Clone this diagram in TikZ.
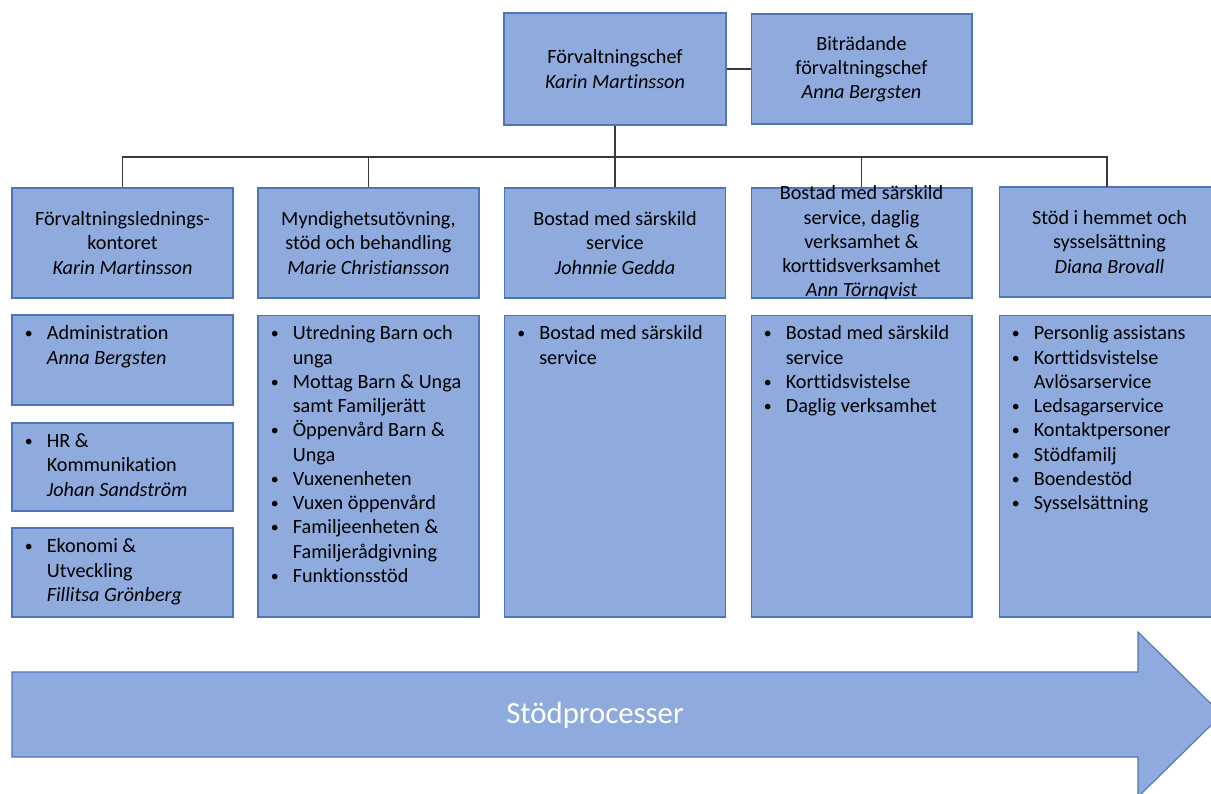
\documentclass[tikz,border=0pt]{standalone}
\usepackage{fontspec}
\setmainfont{Carlito}[Ligatures=NoCommon]
\definecolor{box-fill}{HTML}{8FAADC}
\definecolor{box-line}{HTML}{4F74B8}
\definecolor{conn-line}{HTML}{3A3A3A}
\newcommand\bul{\makebox[0.44cm][l]{\raisebox{0.6pt}{\fontsize{9}{9}\selectfont •}}}
\newcommand\cont{\hspace*{0.44cm}}

\begin{document}
\begin{tikzpicture}[x=0.02cm, y=-0.02cm,
        every node/.style={font={\fontsize{11.5}{13.8}\selectfont}},
        unit/.style={draw=box-line, line width=0.6pt, fill=box-fill,
          inner sep=0pt, minimum width=4.42cm, align=center},
        head/.style={unit, minimum height=2.2cm},
        list/.style={unit, minimum height=6.04cm},
        items/.style={anchor=north west, align=left, inner sep=0pt,
          xshift=0.26cm, yshift=-0.22cm},
        conn/.style={draw=conn-line, line width=0.6pt}]
      \useasboundingbox (0,0) rectangle (1211,794);
      \clip (0,0) rectangle (1211,794);
      % top level
      \node[unit, minimum width=4.44cm, minimum height=2.24cm]
            (CHEF) at (615,69) {Förvaltningschef\\\textit{Karin Martinsson}};
      \node[head] (BITR) at (861.5,69)
            {Biträdande\\förvaltningschef\\\textit{Anna Bergsten}};
      % second level
      \node[head] (FLK) at (122.5,243)
            {Förvaltningslednings-\\kontoret\\\textit{Karin Martinsson}};
      \node[head] (MSB) at (368.5,243)
            {Myndighetsutövning,\\stöd och behandling\\\textit{Marie Christiansson}};
      \node[head] (BMS) at (615,243)
            {Bostad med särskild\\service\\\textit{Johnnie Gedda}};
      \node[head, inner ysep=-4pt] (BSD) at (861.5,243)
            {Bostad med särskild\\service, daglig\\verksamhet \&\\korttidsverksamhet\\\textit{Ann Törnqvist}};
      \node[head] (SHS) at (1109.5,242)
            {Stöd i hemmet och\\sysselsättning\\\textit{Diana Brovall}};
      % lines
      \coordinate (BUS) at (615,157);
      \coordinate (SHSUP) at (1107,187);
      \draw[conn] (CHEF.east) -- (BITR.west);
      \draw[conn] (CHEF.south) -- (BMS.north);
      \draw[conn] (FLK.north) -- (FLK.north |- BUS) -- (SHSUP |- BUS) -- (SHSUP);
      \draw[conn] (MSB.north) -- (MSB.north |- BUS);
      \draw[conn] (BSD.north) -- (BSD.north |- BUS);
      % third level
      \node[unit, minimum height=1.8cm]  (ADM) at (122.5,360) {};
      \node[unit, minimum height=1.76cm] (HRK) at (122.5,467) {};
      \node[unit, minimum height=1.78cm] (EKU) at (122.5,572.5) {};
      \node[list] (LMSB) at (368.5,466) {};
      \node[list] (LBMS) at (615,466) {};
      \node[list] (LBSD) at (861.5,466) {};
      \node[list] (LSHS) at (1109.5,466) {};
      \node[items] (TADM) at (ADM.north west)
            {\bul Administration\\\cont\textit{Anna Bergsten}};
      \node[items] (THRK) at (HRK.north west)
            {\bul HR \&\\\cont Kommunikation\\\cont\textit{Johan Sandström}};
      \node[items] (TEKU) at (EKU.north west)
            {\bul Ekonomi \&\\\cont Utveckling\\\cont\textit{Fillitsa Grönberg}};
      \node[items] (TMSB) at (LMSB.north west)
            {\bul Utredning Barn och\\\cont unga\\
             \bul Mottag Barn \& Unga\\\cont samt Familjerätt\\
             \bul Öppenvård Barn \&\\\cont Unga\\
             \bul Vuxenenheten\\
             \bul Vuxen öppenvård\\
             \bul Familjeenheten \&\\\cont Familjerådgivning\\
             \bul Funktionsstöd};
      \node[items] (TBMS) at (LBMS.north west)
            {\bul Bostad med särskild\\\cont service};
      \node[items] (TBSD) at (LBSD.north west)
            {\bul Bostad med särskild\\\cont service\\
             \bul Korttidsvistelse\\
             \bul Daglig verksamhet};
      \node[items] (TSHS) at (LSHS.north west)
            {\bul Personlig assistans\\
             \bul Korttidsvistelse\\\cont Avlösarservice\\
             \bul Ledsagarservice\\
             \bul Kontaktpersoner\\
             \bul Stödfamilj\\
             \bul Boendestöd\\
             \bul Sysselsättning};
      % process arrow
      \draw[draw=box-line, line width=0.6pt, fill=box-fill]
            (12,672) -- (1138,672) -- (1138,632) -- (1222,714.5)
            -- (1138,797) -- (1138,757) -- (12,757) -- cycle;
      \node[white, font={\fontsize{17.5}{21}\selectfont}] (SP) at (595,715) {Stödprocesser};
    \end{tikzpicture}
\end{document}
